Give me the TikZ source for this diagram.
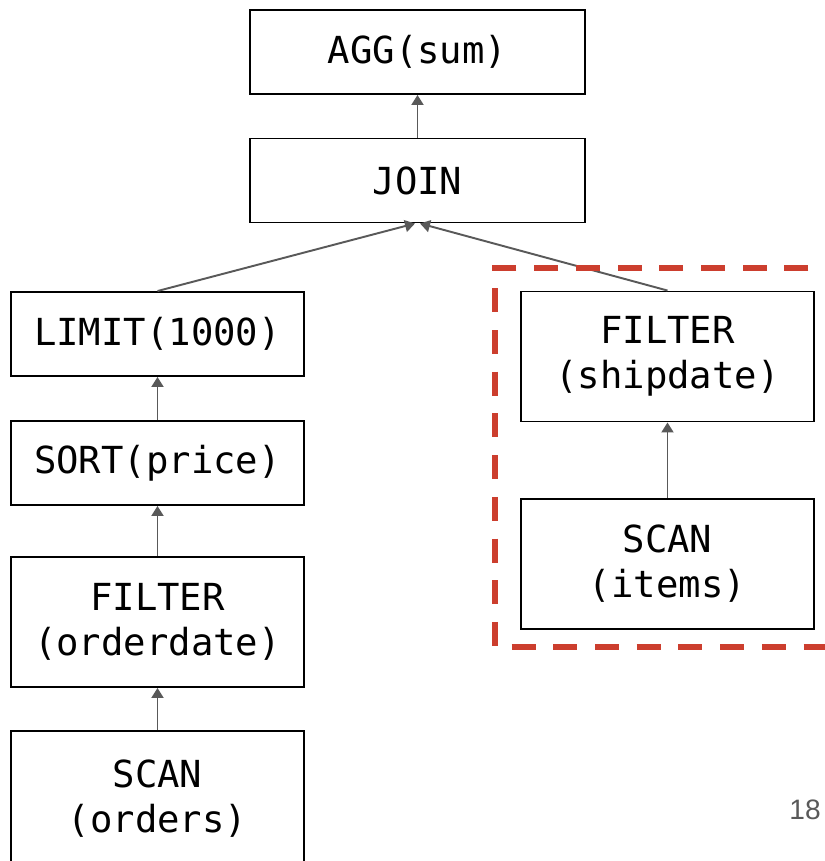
\documentclass[tikz,border=0pt]{standalone}
\usepackage{fontspec}
\setmonofont{DejaVu Sans Mono}
\setsansfont{Liberation Sans}
\usepackage{tikz}
\usetikzlibrary{arrows.meta,positioning}
\definecolor{edgegrey}{RGB}{89,89,89}
\definecolor{hlred}{RGB}{204,62,46}

\begin{document}
\begin{tikzpicture}[
    op/.style={draw,line width=1.1pt,minimum width=5.86cm,align=center,
      font=\ttfamily\fontsize{21.2}{25.6}\selectfont},
    wide/.style={op,minimum width=6.7cm,minimum height=1.68cm},
    short/.style={op,minimum height=1.68cm},
    tall/.style={op,minimum height=2.6cm},
    flow/.style={draw=edgegrey,line width=1.1pt,-{Triangle[length=0.2cm,width=0.24cm]}}
  ]
  \useasboundingbox (0,0) rectangle (16.5,-17.22);
  \node[wide] (agg) at (8.35,-1.04) {AGG(sum)};
  \node[wide] (join) at (8.35,-3.61) {JOIN};
  \node[short] (limit) at (3.15,-6.68) {LIMIT(1000)};
  \node[short] (sort) at (3.15,-9.26) {SORT(price)};
  \node[tall] (filtA) at (3.15,-12.44) {FILTER\\(orderdate)};
  \node[tall,minimum height=2.7cm,text depth=0.1cm] (scanA) at (3.15,-15.97) {SCAN\\(orders)};
  \node[tall] (filtB) at (13.35,-7.13) {FILTER\\(shipdate)};
  \node[tall] (scanB) at (13.35,-11.28) {SCAN\\(items)};
  \draw[flow] (join) -- (agg);
  \draw[flow] (limit.north) -- ([xshift=-0.05cm]join.south);
  \draw[flow] (filtB.north) -- ([xshift=0.05cm]join.south);
  \draw[flow] (sort) -- (limit);
  \draw[flow] (filtA) -- (sort);
  \draw[flow] (scanA) -- (filtA);
  \draw[flow] (scanB) -- (filtB);
  % highlighted subtree
  \draw[hlred,line width=0.12cm,dash pattern=on 0.48cm off 0.354cm]
    (17,-5.36) -- (9.9,-5.36) -- (9.9,-12.94) -- (17,-12.94);
  \node[text=edgegrey,font=\sffamily\fontsize{16}{19}\selectfont] (page) at (16.1,-16.2) {18};
\end{tikzpicture}
\end{document}
